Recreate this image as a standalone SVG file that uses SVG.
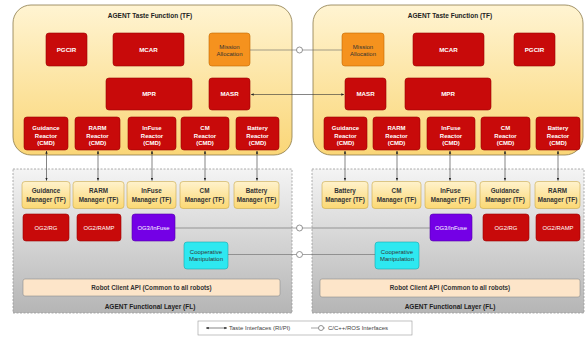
<svg xmlns="http://www.w3.org/2000/svg" width="587" height="337" viewBox="0 0 587 337">
  <defs>
    <linearGradient id="gTF" x1="0" y1="0" x2="0" y2="1">
      <stop offset="0" stop-color="#fff4d2"/>
      <stop offset="1" stop-color="#fad677"/>
    </linearGradient>
    <linearGradient id="gMgr" x1="0" y1="0" x2="0" y2="1">
      <stop offset="0" stop-color="#fff2cc"/>
      <stop offset="1" stop-color="#fbd873"/>
    </linearGradient>
    <linearGradient id="gFL" x1="0" y1="0" x2="0" y2="1">
      <stop offset="0" stop-color="#f4f4f4"/>
      <stop offset="1" stop-color="#b5b5b5"/>
    </linearGradient>
    <marker id="arr" viewBox="0 0 10 10" refX="9" refY="5" markerWidth="5" markerHeight="5" orient="auto-start-reverse">
      <path d="M0,1 L10,5 L0,9 Z" fill="#222"/>
    </marker>
  </defs>
  <style>
    text { font-family: "Liberation Sans", Arial, sans-serif; text-anchor: middle; }
    .tf { fill: url(#gTF); stroke: #8a7a4a; stroke-width: 0.8; }
    .fl { fill: url(#gFL); stroke: #9a9a9a; stroke-width: 0.8; stroke-dasharray: 2 1.5; }
    .red { fill: #c80a0a; stroke: #9a0000; stroke-width: 0.6; }
    .org { fill: #f5921e; stroke: #c46a00; stroke-width: 0.6; }
    .mgr { fill: url(#gMgr); stroke: #c9a94a; stroke-width: 0.6; }
    .pur { fill: #7400e6; stroke: #5200a8; stroke-width: 0.6; }
    .cyn { fill: #2ee8f0; stroke: #16a8b0; stroke-width: 0.6; }
    .api { fill: #fde5c9; stroke: #8f8f8f; stroke-width: 0.6; }
    .title { font-size: 6.5px; font-weight: bold; fill: #222; }
    .one { font-size: 6.2px; font-weight: bold; fill: #fff; }
    .rx { font-size: 6px; font-weight: bold; fill: #fff; }
    .og { font-size: 5.9px; fill: #fff; }
    .mg { font-size: 6.3px; font-weight: bold; fill: #333; }
    .dn { font-size: 6px; fill: #333; }
    .ap { font-size: 6.3px; font-weight: bold; fill: #333; }
    .lg { font-size: 6px; fill: #444; text-anchor: start; }
    .link { stroke: #333; stroke-width: 0.6; fill: none; }
    .lgline { stroke: #666; stroke-width: 0.6; fill: none; }
    .lolly { fill: #fff; stroke: #777; stroke-width: 0.8; }
  </style>

  <!-- Containers -->
  <g id="tf-left">
    <rect class="tf" x="13" y="5" width="279" height="150" rx="18"/>
    <text class="title" x="150" y="17.5">AGENT Taste Function (TF)</text>
  </g>
  <g id="tf-right">
    <rect class="tf" x="313" y="5" width="270" height="150" rx="18"/>
    <text class="title" x="450" y="17.5">AGENT Taste Function (TF)</text>
  </g>
  <g id="fl-left">
    <rect class="fl" x="13" y="169" width="279" height="144"/>
    <text class="title" x="150" y="309">AGENT Functional Layer (FL)</text>
  </g>
  <g id="fl-right">
    <rect class="fl" x="312" y="169" width="272" height="144"/>
    <text class="title" x="450" y="309">AGENT Functional Layer (FL)</text>
  </g>

  <!-- Left TF components -->
  <g id="l-pgcir"><rect class="red" x="46" y="33" width="41" height="33" rx="3"/><text class="one" x="66.5" y="51.7">PGCIR</text></g>
  <g id="l-mcar"><rect class="red" x="113" y="33" width="71" height="33" rx="3"/><text class="one" x="148.5" y="51.7">MCAR</text></g>
  <g id="l-mission"><rect class="org" x="209" y="33" width="41" height="33" rx="3"/><text class="dn" x="229.5" y="48.8">Mission</text><text class="dn" x="229.5" y="56.4">Allocation</text></g>
  <g id="l-mpr"><rect class="red" x="106" y="78" width="86" height="32" rx="3"/><text class="one" x="149" y="96.2">MPR</text></g>
  <g id="l-masr"><rect class="red" x="209" y="78" width="41" height="32" rx="3"/><text class="one" x="229.5" y="96.2">MASR</text></g>
  <g id="l-r-guid"><rect class="red" x="24" y="117" width="44" height="33" rx="3"/><text class="rx" x="46" y="130">Guidance</text><text class="rx" x="46" y="137.5">Reactor</text><text class="rx" x="46" y="145">(CMD)</text></g>
  <g id="l-r-rarm"><rect class="red" x="75" y="117" width="45" height="33" rx="3"/><text class="rx" x="97.5" y="130">RARM</text><text class="rx" x="97.5" y="137.5">Reactor</text><text class="rx" x="97.5" y="145">(CMD)</text></g>
  <g id="l-r-infuse"><rect class="red" x="128" y="117" width="48" height="33" rx="3"/><text class="rx" x="152" y="130">InFuse</text><text class="rx" x="152" y="137.5">Reactor</text><text class="rx" x="152" y="145">(CMD)</text></g>
  <g id="l-r-cm"><rect class="red" x="181" y="117" width="48" height="33" rx="3"/><text class="rx" x="205" y="130">CM</text><text class="rx" x="205" y="137.5">Reactor</text><text class="rx" x="205" y="145">(CMD)</text></g>
  <g id="l-r-batt"><rect class="red" x="236" y="117" width="43" height="33" rx="3"/><text class="rx" x="257.5" y="130">Battery</text><text class="rx" x="257.5" y="137.5">Reactor</text><text class="rx" x="257.5" y="145">(CMD)</text></g>

  <!-- Right TF components -->
  <g id="r-mission"><rect class="org" x="342" y="33" width="42" height="33" rx="3"/><text class="dn" x="363" y="48.8">Mission</text><text class="dn" x="363" y="56.4">Allocation</text></g>
  <g id="r-mcar"><rect class="red" x="413" y="33" width="71" height="33" rx="3"/><text class="one" x="448.5" y="51.7">MCAR</text></g>
  <g id="r-pgcir"><rect class="red" x="514" y="33" width="41" height="33" rx="3"/><text class="one" x="534.5" y="51.7">PGCIR</text></g>
  <g id="r-masr"><rect class="red" x="345" y="78" width="41" height="32" rx="3"/><text class="one" x="365.5" y="96.2">MASR</text></g>
  <g id="r-mpr"><rect class="red" x="405" y="78" width="86" height="32" rx="3"/><text class="one" x="448" y="96.2">MPR</text></g>
  <g id="r-r-guid"><rect class="red" x="324" y="117" width="43" height="33" rx="3"/><text class="rx" x="345.5" y="130">Guidance</text><text class="rx" x="345.5" y="137.5">Reactor</text><text class="rx" x="345.5" y="145">(CMD)</text></g>
  <g id="r-r-rarm"><rect class="red" x="373" y="117" width="47" height="33" rx="3"/><text class="rx" x="396.5" y="130">RARM</text><text class="rx" x="396.5" y="137.5">Reactor</text><text class="rx" x="396.5" y="145">(CMD)</text></g>
  <g id="r-r-infuse"><rect class="red" x="427" y="117" width="48" height="33" rx="3"/><text class="rx" x="451" y="130">InFuse</text><text class="rx" x="451" y="137.5">Reactor</text><text class="rx" x="451" y="145">(CMD)</text></g>
  <g id="r-r-cm"><rect class="red" x="481" y="117" width="49" height="33" rx="3"/><text class="rx" x="505.5" y="130">CM</text><text class="rx" x="505.5" y="137.5">Reactor</text><text class="rx" x="505.5" y="145">(CMD)</text></g>
  <g id="r-r-batt"><rect class="red" x="536" y="117" width="44" height="33" rx="3"/><text class="rx" x="558" y="130">Battery</text><text class="rx" x="558" y="137.5">Reactor</text><text class="rx" x="558" y="145">(CMD)</text></g>

  <!-- Left FL components -->
  <g id="l-m-guid"><rect class="mgr" x="22" y="181.5" width="48" height="27" rx="3"/><text class="mg" x="46" y="193">Guidance</text><text class="mg" x="46" y="201.5">Manager (TF)</text></g>
  <g id="l-m-rarm"><rect class="mgr" x="73" y="181.5" width="51" height="27" rx="3"/><text class="mg" x="98.5" y="193">RARM</text><text class="mg" x="98.5" y="201.5">Manager (TF)</text></g>
  <g id="l-m-infuse"><rect class="mgr" x="127" y="181.5" width="49" height="27" rx="3"/><text class="mg" x="151.5" y="193">InFuse</text><text class="mg" x="151.5" y="201.5">Manager (TF)</text></g>
  <g id="l-m-cm"><rect class="mgr" x="180" y="181.5" width="49" height="27" rx="3"/><text class="mg" x="204.5" y="193">CM</text><text class="mg" x="204.5" y="201.5">Manager (TF)</text></g>
  <g id="l-m-batt"><rect class="mgr" x="234" y="181.5" width="45" height="27" rx="3"/><text class="mg" x="256.5" y="193">Battery</text><text class="mg" x="256.5" y="201.5">Manager (TF)</text></g>
  <g id="l-og2rg"><rect class="red" x="23" y="214" width="46" height="27" rx="3"/><text class="og" x="46" y="229.5">OG2/RG</text></g>
  <g id="l-og2ramp"><rect class="red" x="77" y="214" width="44" height="27" rx="3"/><text class="og" x="99" y="229.5">OG2/RAMP</text></g>
  <g id="l-og3infuse"><rect class="pur" x="132" y="214" width="43" height="27" rx="3"/><text class="og" x="153.5" y="229.5">OG3/InFuse</text></g>
  <g id="l-coop"><rect class="cyn" x="184" y="242" width="44" height="27" rx="3"/><text class="dn" x="206" y="254">Cooperative</text><text class="dn" x="206" y="260.8">Manipulation</text></g>
  <g id="l-api"><rect class="api" x="23" y="279" width="257" height="17" rx="2"/><text class="ap" x="151.5" y="289.8">Robot Client API (Common to all robots)</text></g>

  <!-- Right FL components -->
  <g id="r-m-batt"><rect class="mgr" x="322" y="181.5" width="46" height="27" rx="3"/><text class="mg" x="345" y="193">Battery</text><text class="mg" x="345" y="201.5">Manager (TF)</text></g>
  <g id="r-m-cm"><rect class="mgr" x="372" y="181.5" width="49" height="27" rx="3"/><text class="mg" x="396.5" y="193">CM</text><text class="mg" x="396.5" y="201.5">Manager (TF)</text></g>
  <g id="r-m-infuse"><rect class="mgr" x="425" y="181.5" width="51" height="27" rx="3"/><text class="mg" x="450.5" y="193">InFuse</text><text class="mg" x="450.5" y="201.5">Manager (TF)</text></g>
  <g id="r-m-guid"><rect class="mgr" x="480" y="181.5" width="50" height="27" rx="3"/><text class="mg" x="505" y="193">Guidance</text><text class="mg" x="505" y="201.5">Manager (TF)</text></g>
  <g id="r-m-rarm"><rect class="mgr" x="535" y="181.5" width="45" height="27" rx="3"/><text class="mg" x="557.5" y="193">RARM</text><text class="mg" x="557.5" y="201.5">Manager (TF)</text></g>
  <g id="r-og3infuse"><rect class="pur" x="430" y="214" width="42" height="27" rx="3"/><text class="og" x="451" y="229.5">OG3/InFuse</text></g>
  <g id="r-og2rg"><rect class="red" x="483" y="214" width="46" height="27" rx="3"/><text class="og" x="506" y="229.5">OG2/RG</text></g>
  <g id="r-og2ramp"><rect class="red" x="536" y="214" width="44" height="27" rx="3"/><text class="og" x="558" y="229.5">OG2/RAMP</text></g>
  <g id="r-coop"><rect class="cyn" x="375" y="242" width="44" height="27" rx="3"/><text class="dn" x="397" y="254">Cooperative</text><text class="dn" x="397" y="260.8">Manipulation</text></g>
  <g id="r-api"><rect class="api" x="320" y="279" width="260" height="18" rx="2"/><text class="ap" x="450" y="290.2">Robot Client API (Common to all robots)</text></g>

  <!-- Connectors -->
  <g id="connectors">
    <!-- reactor <-> manager (left) -->
    <line class="link" x1="46.5" y1="151" x2="46.5" y2="180.5" marker-start="url(#arr)" marker-end="url(#arr)"/>
    <line class="link" x1="98" y1="151" x2="98" y2="180.5" marker-start="url(#arr)" marker-end="url(#arr)"/>
    <line class="link" x1="152" y1="151" x2="152" y2="180.5" marker-start="url(#arr)" marker-end="url(#arr)"/>
    <line class="link" x1="205" y1="151" x2="205" y2="180.5" marker-start="url(#arr)" marker-end="url(#arr)"/>
    <line class="link" x1="257" y1="151" x2="257" y2="180.5" marker-start="url(#arr)" marker-end="url(#arr)"/>
    <!-- reactor <-> manager (right) -->
    <line class="link" x1="345" y1="151" x2="345" y2="180.5" marker-start="url(#arr)" marker-end="url(#arr)"/>
    <line class="link" x1="397" y1="151" x2="397" y2="180.5" marker-start="url(#arr)" marker-end="url(#arr)"/>
    <line class="link" x1="450" y1="151" x2="450" y2="180.5" marker-start="url(#arr)" marker-end="url(#arr)"/>
    <line class="link" x1="505" y1="151" x2="505" y2="180.5" marker-start="url(#arr)" marker-end="url(#arr)"/>
    <line class="link" x1="558" y1="151" x2="558" y2="180.5" marker-start="url(#arr)" marker-end="url(#arr)"/>
    <!-- MASR <-> MASR -->
    <line class="link" x1="251" y1="94.5" x2="344" y2="94.5" marker-start="url(#arr)" marker-end="url(#arr)"/>
    <!-- C/C++/ROS links -->
    <line class="lgline" x1="250" y1="50" x2="342" y2="50"/>
    <circle class="lolly" cx="299.5" cy="50" r="3"/>
    <line class="lgline" x1="175" y1="228" x2="430" y2="228"/>
    <circle class="lolly" cx="299.5" cy="228" r="3"/>
    <line class="lgline" x1="228" y1="254.5" x2="375" y2="254.5"/>
    <circle class="lolly" cx="299.5" cy="254.5" r="3"/>
  </g>

  <!-- Legend -->
  <g id="legend">
    <rect x="198" y="321" width="214" height="14" fill="#fff" stroke="#999" stroke-width="0.6"/>
    <line class="link" x1="206" y1="328" x2="227" y2="328" marker-start="url(#arr)" marker-end="url(#arr)"/>
    <text class="lg" x="229" y="330">Taste Interfaces (RI/PI)</text>
    <line class="lgline" x1="311" y1="328" x2="325" y2="328"/>
    <circle class="lolly" cx="321" cy="328" r="2.5"/>
    <text class="lg" x="328" y="330">C/C++/ROS Interfaces</text>
  </g>
</svg>
